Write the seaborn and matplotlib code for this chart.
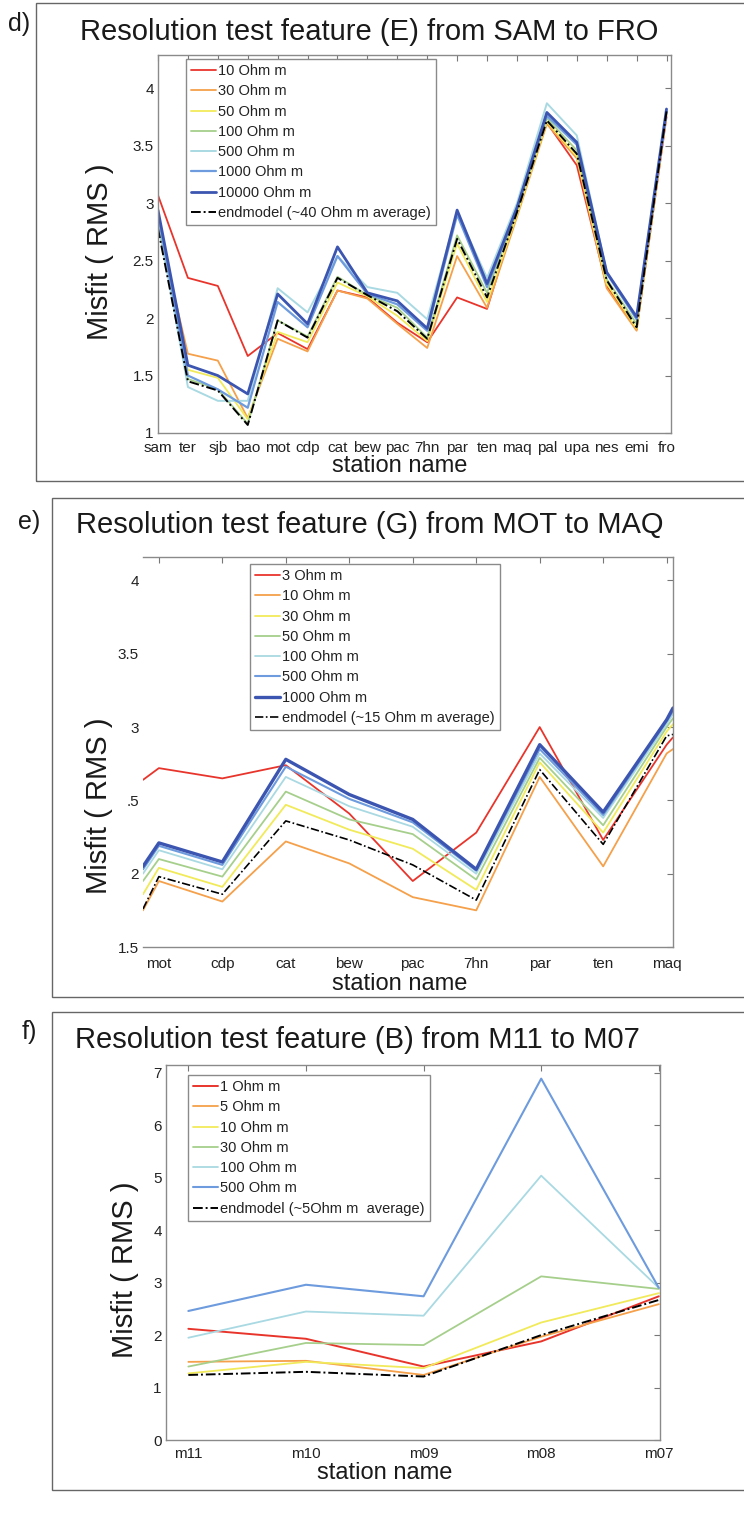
import numpy as np
import pandas as pd
import seaborn as sns
import matplotlib
matplotlib.use("Agg")
import matplotlib.pyplot as plt
from matplotlib.patches import Rectangle
from matplotlib.lines import Line2D

sns.set_theme(style="white")
plt.rcParams['font.family'] = ['Liberation Sans', 'DejaVu Sans']

W, H = 744, 1528

# ---------------- data: panel d ----------------
d_stations = ["sam", "ter", "sjb", "bao", "mot", "cdp", "cat", "bew", "pac",
              "7hn", "par", "ten", "maq", "pal", "upa", "nes", "emi", "fro"]
d_labels = ["10 Ohm m", "30 Ohm m", "50 Ohm m", "100 Ohm m", "500 Ohm m",
            "1000 Ohm m", "10000 Ohm m", "endmodel (~40 Ohm m average)"]
d_10 = [3.07, 2.35, 2.28, 1.67, 1.87, 1.73, 2.24, 2.18, 1.96, 1.79, 2.18, 2.08, 2.92, 3.70, 3.33, 2.28, 1.90, 3.75]
d_30 = [2.80, 1.69, 1.63, 1.13, 1.82, 1.71, 2.24, 2.17, 1.95, 1.74, 2.54, 2.09, 2.88, 3.69, 3.39, 2.26, 1.89, 3.77]
d_50 = [2.82, 1.55, 1.48, 1.12, 1.88, 1.79, 2.31, 2.19, 2.02, 1.80, 2.65, 2.14, 2.90, 3.71, 3.41, 2.30, 1.91, 3.78]
d_100 = [2.83, 1.47, 1.38, 1.08, 1.98, 1.84, 2.36, 2.20, 2.09, 1.83, 2.72, 2.22, 2.94, 3.74, 3.46, 2.34, 1.95, 3.79]
d_500 = [2.85, 1.40, 1.28, 1.28, 2.26, 2.05, 2.54, 2.27, 2.22, 1.99, 2.92, 2.35, 3.00, 3.87, 3.59, 2.40, 2.00, 3.80]
d_1000 = [2.90, 1.50, 1.38, 1.22, 2.14, 1.92, 2.54, 2.21, 2.12, 1.89, 2.90, 2.27, 2.96, 3.76, 3.51, 2.39, 1.99, 3.80]
d_10000 = [2.94, 1.59, 1.50, 1.34, 2.21, 1.95, 2.62, 2.22, 2.15, 1.91, 2.94, 2.30, 2.96, 3.79, 3.53, 2.40, 2.01, 3.82]
d_end = [2.78, 1.45, 1.37, 1.07, 1.98, 1.83, 2.35, 2.20, 2.06, 1.82, 2.69, 2.18, 2.92, 3.72, 3.43, 2.33, 1.92, 3.80]

# ---------------- data: panel e ----------------
e_stations = ["mot", "cdp", "cat", "bew", "pac", "7hn", "par", "ten", "maq"]
e_x = [-0.25, 0, 1, 2, 3, 4, 5, 6, 7, 8, 8.1]   # profile position (station index units)
e_labels = ["3 Ohm m", "10 Ohm m", "30 Ohm m", "50 Ohm m", "100 Ohm m",
            "500 Ohm m", "1000 Ohm m", "endmodel (~15 Ohm m average)"]
e_3 = [2.64, 2.72, 2.65, 2.74, 2.41, 1.95, 2.28, 3.00, 2.23, 2.88, 2.93]
e_10 = [1.75, 1.95, 1.81, 2.22, 2.07, 1.84, 1.75, 2.66, 2.05, 2.82, 2.85]
e_30 = [1.86, 2.04, 1.91, 2.47, 2.30, 2.17, 1.89, 2.76, 2.28, 2.97, 3.02]
e_50 = [1.95, 2.10, 1.98, 2.56, 2.37, 2.27, 1.96, 2.79, 2.33, 3.00, 3.06]
e_100 = [2.00, 2.16, 2.03, 2.66, 2.46, 2.32, 2.00, 2.82, 2.38, 3.02, 3.09]
e_500 = [2.03, 2.19, 2.06, 2.73, 2.51, 2.35, 2.02, 2.85, 2.40, 3.04, 3.11]
e_1000 = [2.05, 2.21, 2.08, 2.78, 2.54, 2.37, 2.03, 2.88, 2.42, 3.05, 3.13]
e_end = [1.76, 1.98, 1.86, 2.36, 2.23, 2.06, 1.82, 2.71, 2.20, 2.94, 2.95]
e_yticks = [1.5, 2, 2.5, 3, 3.5, 4]
e_yticklabels = ["1.5", "2", ".5", "3", "3.5", "4"]

# ---------------- data: panel f ----------------
f_stations = ["m11", "m10", "m09", "m08", "m07"]
f_labels = ["1 Ohm m", "5 Ohm m", "10 Ohm m", "30 Ohm m", "100 Ohm m",
            "500 Ohm m", "endmodel (~5Ohm m  average)"]
f_1 = [2.12, 1.93, 1.40, 1.88, 2.74]
f_5 = [1.49, 1.51, 1.24, 1.97, 2.59]
f_10 = [1.27, 1.49, 1.37, 2.24, 2.80]
f_30 = [1.40, 1.85, 1.81, 3.12, 2.88]
f_100 = [1.95, 2.45, 2.37, 5.04, 2.90]
f_500 = [2.46, 2.96, 2.74, 6.89, 2.90]
f_end = [1.24, 1.30, 1.21, 2.00, 2.67]

# ---------------- styles ----------------
RED, ORANGE, YELLOW, GREEN = "#e8352c", "#f5a04a", "#f1ea5a", "#a6cf8c"
CYAN, MBLUE, DBLUE = "#a9d9e2", "#6d9bdd", "#3c55b0"
DASHDOT = (0, (5, 1.5, 1, 1.5))

fig = plt.figure(figsize=(W / 100, H / 100), dpi=100)


def px_axes(left, top, right, bottom):
    return fig.add_axes([left / W, 1 - bottom / H, (right - left) / W, (bottom - top) / H])


def frame(left, top, right, bottom):
    fig.add_artist(Rectangle((left / W, 1 - bottom / H), (right - left) / W, (bottom - top) / H,
                             transform=fig.transFigure, fill=False, ec="#666666", lw=1.0))


def ftext(x, y, s, size, **kw):
    fig.text(x / W, 1 - y / H, s, fontsize=size, color="#1a1a1a", **kw)


def draw(ax, x, series, colors, widths, labels):
    handles = []
    for vals, c, lw, lab in zip(series, colors, widths, labels):
        df = pd.DataFrame({"x": x, "rms": vals})
        ls = DASHDOT if lab.startswith("endmodel") else "-"
        sns.lineplot(data=df, x="x", y="rms", ax=ax, color=c, lw=lw, sort=False,
                     linestyle=ls, legend=False, estimator=None)
        handles.append(Line2D([], [], color=c, lw=lw, linestyle=ls))
    return handles


def style_axes(ax, xlim, ylim, xticks, xlabels, yticks, ylabels=None, xpad=4):
    ax.set_xlim(*xlim)
    ax.set_ylim(*ylim)
    ax.set_xticks(xticks)
    ax.set_xticklabels(xlabels)
    ax.set_yticks(yticks)
    if ylabels is not None:
        ax.set_yticklabels(ylabels)
    ax.tick_params(direction="in", top=True, right=True, length=4, width=0.8,
                   color="#777777", labelsize=11, labelcolor="#222222", pad=3)
    ax.tick_params(axis="x", pad=xpad)
    for sp in ax.spines.values():
        sp.set_color("#8a8a8a")
        sp.set_linewidth(1.0)
    ax.set_facecolor("white")


def add_legend(ax, handles, labels, left, top):
    leg = ax.legend(handles, labels, loc="upper left",
                    bbox_to_anchor=(left / W, 1 - top / H), bbox_transform=fig.transFigure,
                    frameon=True, fancybox=False, edgecolor="#8a8a8a", framealpha=1,
                    fontsize=10.5, handlelength=1.7, handletextpad=0.15,
                    labelspacing=0.43, borderpad=0.35, borderaxespad=0)
    leg.get_frame().set_linewidth(1.0)
    for t in leg.get_texts():
        t.set_color("#222222")


def labels_at(ax, xl, yl):
    ax.set_xlabel("station name", fontsize=17, color="#1a1a1a")
    ax.set_ylabel("Misfit ( RMS )", fontsize=21, color="#1a1a1a")
    ax.xaxis.set_label_coords(xl[0] / W, 1 - xl[1] / H, transform=fig.transFigure)
    ax.yaxis.set_label_coords(yl[0] / W, 1 - yl[1] / H, transform=fig.transFigure)
    ax.xaxis.label.set_va("center")
    ax.yaxis.label.set_va("center")


# ================= panel d =================
frame(36, 3, 745, 481)
ftext(8, 24, "d)", 18, va="center")
ftext(80, 32, "Resolution test feature (E) from SAM to FRO", 21, va="center")
axd = px_axes(158, 55, 671, 433)
d_x = list(range(len(d_stations)))
hd = draw(axd, d_x, [d_10, d_30, d_50, d_100, d_500, d_1000, d_10000, d_end],
          [RED, ORANGE, YELLOW, GREEN, CYAN, MBLUE, DBLUE, "black"],
          [1.3, 1.3, 1.3, 1.3, 1.4, 1.6, 2.0, 1.4], d_labels)
style_axes(axd, (0, 17.15), (1, 4.29), d_x, d_stations, [1, 1.5, 2, 2.5, 3, 3.5, 4],
           ["1", "1.5", "2", "2.5", "3", "3.5", "4"], xpad=6)
labels_at(axd, (400, 466), (100, 252))
add_legend(axd, hd, d_labels, 186, 59)

# ================= panel e =================
frame(52, 498, 745, 997)
ftext(18, 522, "e)", 18, va="center")
ftext(76, 525, "Resolution test feature (G) from MOT to MAQ", 21, va="center")
axe = px_axes(143, 557, 673, 947)
he = draw(axe, e_x, [e_3, e_10, e_30, e_50, e_100, e_500, e_1000, e_end],
          [RED, ORANGE, YELLOW, GREEN, CYAN, MBLUE, DBLUE, "black"],
          [1.3, 1.3, 1.3, 1.3, 1.3, 1.5, 2.4, 1.2], e_labels)
style_axes(axe, (-0.25, 8.1), (1.5, 4.16), list(range(len(e_stations))), e_stations,
           e_yticks, e_yticklabels, xpad=7)
axe.spines["left"].set_visible(False)
labels_at(axe, (400, 984), (99, 806))
add_legend(axe, he, e_labels, 250, 564)

# ================= panel f =================
frame(52, 1012, 745, 1490)
ftext(22, 1032, "f)", 18, va="center")
ftext(75, 1040, "Resolution test feature (B) from M11 to M07", 21, va="center")
axf = px_axes(166, 1065, 660, 1440)
f_x = list(range(len(f_stations)))
hf = draw(axf, f_x, [f_1, f_5, f_10, f_30, f_100, f_500, f_end],
          [RED, ORANGE, YELLOW, GREEN, CYAN, MBLUE, "black"],
          [1.4, 1.3, 1.3, 1.3, 1.3, 1.5, 1.4], f_labels)
style_axes(axf, (-0.19, 4.01), (0, 7.15), f_x, f_stations, list(range(8)), xpad=5)
labels_at(axf, (385, 1473), (125, 1270))
add_legend(axf, hf, f_labels, 188, 1075)

fig.savefig("out.png", dpi=100, facecolor="white")
